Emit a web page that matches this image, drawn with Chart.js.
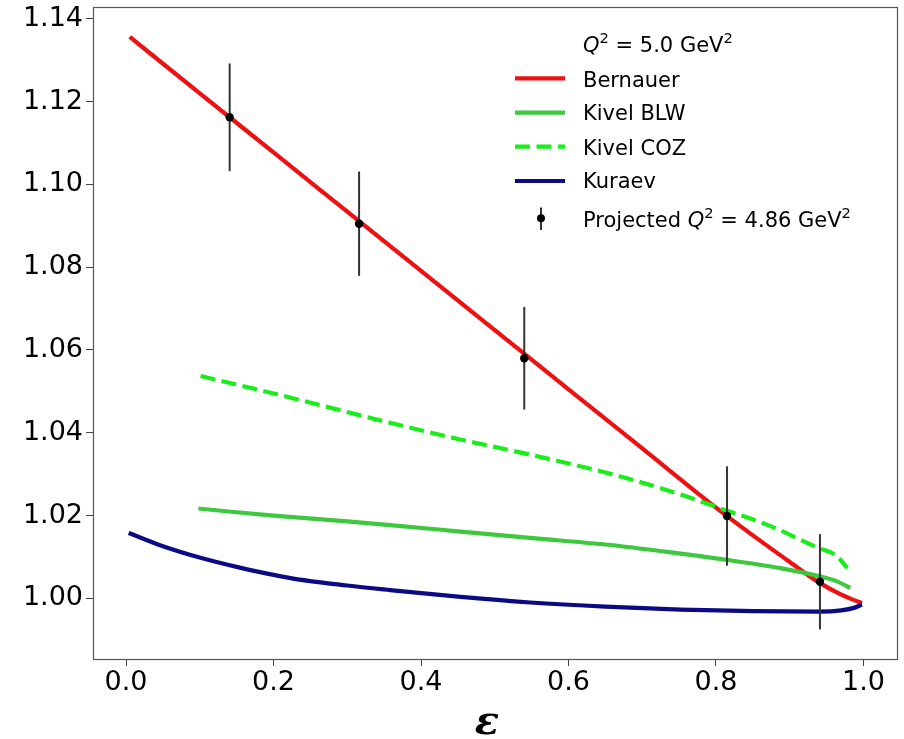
<!DOCTYPE html>
<html><head><meta charset="utf-8">
<script src="https://cdn.jsdelivr.net/npm/chart.js@4.4.1/dist/chart.umd.min.js"></script>
<style>html,body{margin:0;padding:0;background:#fff;}#wrap{width:904px;height:739px;}</style>
</head><body><div id="wrap"><canvas id="c" width="904" height="739"></canvas></div>
<script>
// ---- data ----
const bernauerEps = [0.005, 0.1, 0.2, 0.3, 0.4, 0.5, 0.6, 0.7, 0.8, 0.85, 0.9, 0.94, 0.97, 0.99, 0.998];
const bernauerVal = [1.1356, 1.1220, 1.1077, 1.0934, 1.0791, 1.0648, 1.0505, 1.0362, 1.0219, 1.0152, 1.0088, 1.0038, 1.0009, 0.9994, 0.9989];

const kivelBLWEps = [0.098, 0.15, 0.2, 0.3, 0.358, 0.45, 0.548, 0.65, 0.752, 0.815, 0.887, 0.941, 0.964, 0.982];
const kivelBLWVal = [1.0217, 1.0208, 1.0200, 1.0186, 1.0177, 1.0162, 1.0146, 1.0130, 1.0108, 1.0093, 1.0073, 1.0053, 1.0041, 1.0025];

const kivelCOZEps = [0.101, 0.2, 0.358, 0.45, 0.548, 0.65, 0.752, 0.806, 0.869, 0.937, 0.964, 0.978];
const kivelCOZVal = [1.0537, 1.0495, 1.0424, 1.0385, 1.0347, 1.0304, 1.0251, 1.0217, 1.0178, 1.0123, 1.0102, 1.0073];

const kuraevEps = [0.0035, 0.05, 0.101, 0.15, 0.223, 0.3, 0.358, 0.45, 0.548, 0.65, 0.752, 0.85, 0.94, 0.97, 0.987, 0.998];
const kuraevVal = [1.0158, 1.0126, 1.0098, 1.0076, 1.0049, 1.0031, 1.0020, 1.0004, 0.9990, 0.9980, 0.9973, 0.9969, 0.9968, 0.9971, 0.9977, 0.9985];

const projEps = [0.1405, 0.316, 0.540, 0.815, 0.941];
const projVal = [1.1162, 1.0905, 1.0580, 1.0199, 1.0040];
const projErr = [0.0130, 0.0126, 0.0124, 0.0120, 0.0115];

const xTicks = [0.0, 0.2, 0.4, 0.6, 0.8, 1.0];
const yTicks = [1.00, 1.02, 1.04, 1.06, 1.08, 1.10, 1.12, 1.14];

const seriesNames = ['Bernauer', 'Kivel BLW', 'Kivel COZ', 'Kuraev'];
const xAxisLabel = 'ε';

// ---- build ----
const zip = (xs, ys) => xs.map((x, i) => ({x: x, y: ys[i]}));
const FONT = '"DejaVu Sans", sans-serif';

const lineDs = (label, xs, ys, color, dash, order) => ({
  type: 'scatter', label: label, data: zip(xs, ys), showLine: true,
  borderColor: color, backgroundColor: color, borderWidth: 4.2,
  borderDash: dash, pointRadius: 0, pointHoverRadius: 0,
  cubicInterpolationMode: 'monotone', tension: 0.4, order: order, clip: false
});

const colors = {bern: '#ee1111', blw: '#3ec83e', coz: '#1aee1a', kur: '#0a0a85'};

const frameAndLegend = {
  id: 'frameAndLegend',
  beforeDatasetDraw(chart, args) {
    if (args.meta.label !== 'Projected') return;
    const ctx = chart.ctx, xs = chart.scales.x, ys = chart.scales.y;
    ctx.save();
    ctx.strokeStyle = '#333';
    ctx.lineWidth = 2;
    projEps.forEach((e, i) => {
      const px = xs.getPixelForValue(e);
      ctx.beginPath();
      ctx.moveTo(px, ys.getPixelForValue(projVal[i] + projErr[i]));
      ctx.lineTo(px, ys.getPixelForValue(projVal[i] - projErr[i]));
      ctx.stroke();
    });
    ctx.restore();
  },
  afterDraw(chart) {
    const ctx = chart.ctx, a = chart.chartArea;
    ctx.save();
    // frame
    ctx.strokeStyle = '#555';
    ctx.lineWidth = 1.2;
    ctx.strokeRect(Math.round(a.left) - 0.5, Math.round(a.top) - 0.5,
                   Math.round(a.right - a.left) + 1, Math.round(a.bottom - a.top) + 1);

    // x axis label
    ctx.fillStyle = '#000';
    ctx.textAlign = 'center';
    ctx.textBaseline = 'alphabetic';
    ctx.font = 'italic bold 40px "DejaVu Serif", serif';
    ctx.fillText(xAxisLabel, 487, 734);

    // legend
    const size = 21;
    const rich = (x, y, parts) => {
      ctx.textAlign = 'left';
      ctx.textBaseline = 'alphabetic';
      parts.forEach(p => {
        const [t, s] = p;
        const sup = s === 's';
        const fs = sup ? size * 0.7 : size;
        ctx.font = (s === 'i' ? 'italic ' : '') + fs + 'px ' + FONT;
        ctx.fillText(t, x, sup ? y - size * 0.42 : y);
        x += ctx.measureText(t).width;
      });
    };
    const tx = 583;
    rich(tx, 51.5, [['Q', 'i'], ['2', 's'], [' = 5.0 GeV', 'n'], ['2', 's']]);
    const rows = [
      [seriesNames[0], colors.bern, [], 78.3, 86.7],
      [seriesNames[1], colors.blw, [], 112.7, 120],
      [seriesNames[2], colors.coz, [15, 6.5], 146.7, 155],
      [seriesNames[3], colors.kur, [], 181, 188.3]
    ];
    rows.forEach(r => {
      ctx.strokeStyle = r[1];
      ctx.lineWidth = 4.2;
      ctx.setLineDash(r[2]);
      ctx.beginPath();
      ctx.moveTo(515, r[3]);
      ctx.lineTo(565, r[3]);
      ctx.stroke();
      ctx.setLineDash([]);
      ctx.fillStyle = '#000';
      rich(tx, r[4], [[r[0], 'n']]);
    });
    // errorbar handle
    ctx.strokeStyle = '#333';
    ctx.lineWidth = 2;
    ctx.beginPath();
    ctx.moveTo(541, 207.5);
    ctx.lineTo(541, 230);
    ctx.stroke();
    ctx.fillStyle = '#000';
    ctx.beginPath();
    ctx.arc(541, 218.3, 4, 0, Math.PI * 2);
    ctx.fill();
    rich(tx, 226.5, [['Projected ', 'n'], ['Q', 'i'], ['2', 's'], [' = 4.86 GeV', 'n'], ['2', 's']]);
    ctx.restore();
  }
};

new Chart(document.getElementById('c'), {
  type: 'scatter',
  data: {
    datasets: [
      {type: 'scatter', label: 'Projected', data: zip(projEps, projVal), pointRadius: 4.2,
       pointHoverRadius: 4.2, backgroundColor: '#000', borderColor: '#000', borderWidth: 0,
       showLine: false, order: 0, clip: false},
      lineDs(seriesNames[3], kuraevEps, kuraevVal, colors.kur, [], 1),
      lineDs(seriesNames[2], kivelCOZEps, kivelCOZVal, colors.coz, [15, 6.5], 2),
      lineDs(seriesNames[1], kivelBLWEps, kivelBLWVal, colors.blw, [], 3),
      lineDs(seriesNames[0], bernauerEps, bernauerVal, colors.bern, [], 4)
    ]
  },
  options: {
    responsive: false,
    animation: false,
    devicePixelRatio: 1,
    layout: {padding: {top: 8, right: 7, left: 0, bottom: 0}},
    plugins: {legend: {display: false}, tooltip: {enabled: false}},
    scales: {
      x: {
        type: 'linear', min: -0.0435, max: 1.0455,
        afterBuildTicks: s => { s.ticks = xTicks.map(v => ({value: v})); },
        afterFit: s => { s.height = 80; s.paddingLeft = 0; s.paddingRight = 0; },
        ticks: {callback: v => Number(v).toFixed(1), color: '#000', padding: 1,
                font: {family: FONT, size: 27}, maxRotation: 0, autoSkip: false},
        grid: {display: true, drawOnChartArea: false, drawTicks: true, tickLength: 7,
               color: '#444', lineWidth: 1},
        border: {display: false},
        title: {display: false}
      },
      y: {
        type: 'linear', min: 0.98535, max: 1.1426,
        afterBuildTicks: s => { s.ticks = yTicks.map(v => ({value: v})); },
        afterFit: s => { s.width = 94; s.paddingTop = 0; s.paddingBottom = 0; },
        ticks: {callback: v => Number(v).toFixed(2), color: '#000', padding: 3,
                font: {family: FONT, size: 27}, autoSkip: false},
        grid: {display: true, drawOnChartArea: false, drawTicks: true, tickLength: 8,
               color: '#444', lineWidth: 1},
        border: {display: false}
      }
    }
  },
  plugins: [frameAndLegend]
});
</script>
</body></html>
